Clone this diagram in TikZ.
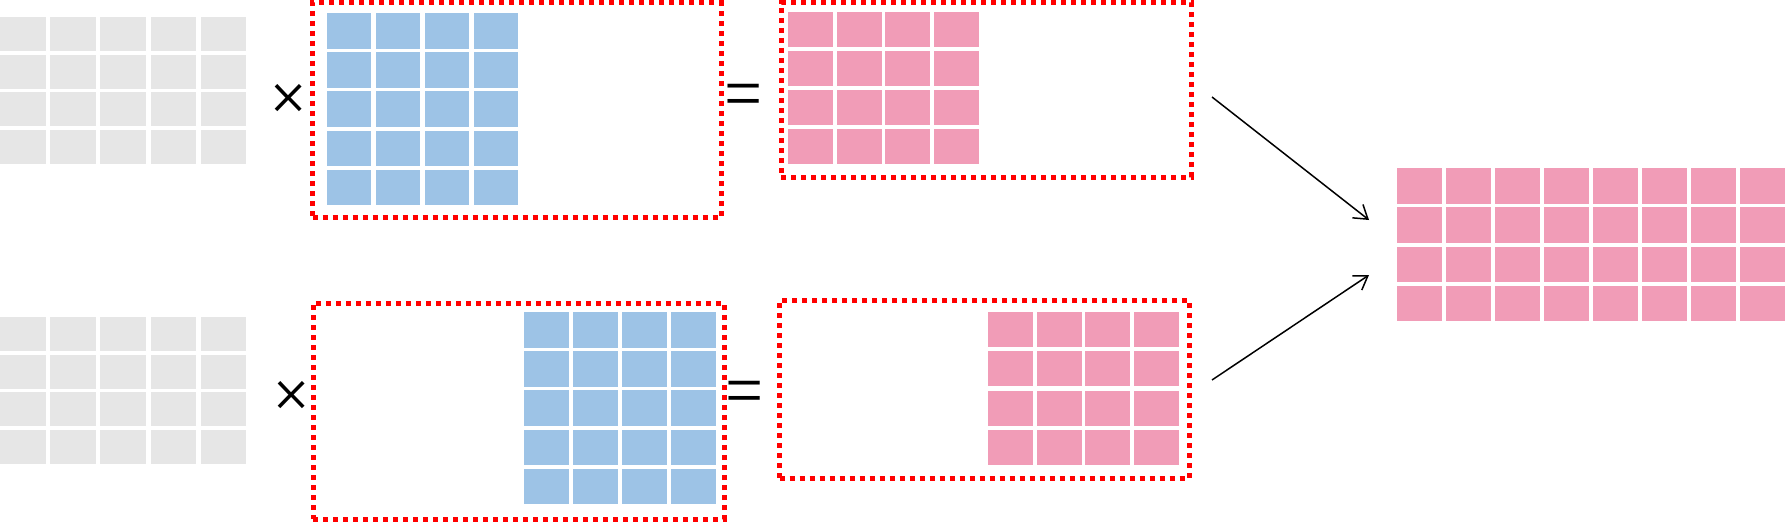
\documentclass[tikz,border=0pt]{standalone}
\usepackage{fontspec}
\setmainfont{Liberation Sans}
\newfontfamily\opfont{Fira Sans ExtraLight}
\usetikzlibrary{arrows.meta}
\definecolor{cgrey}{RGB}{230,230,230}
\definecolor{cblue}{RGB}{157,195,230}
\definecolor{cpink}{RGB}{241,156,183}
\definecolor{cred}{RGB}{255,0,0}
\newcommand\cellgrid[9]{%
  \foreach \ii in {1,...,#3}{%
    \foreach \jj in {1,...,#4}{%
      \fill[#9] ({#1+(\ii-1)*#5},{#2+(\jj-1)*#6}) rectangle ++(#7,#8);
    }%
  }%
}
\begin{document}
\begin{tikzpicture}[x=1pt,y=-1pt,
  redbox/.style={draw=cred, line width=5pt, dash pattern=on 5pt off 5pt, inner sep=0pt, outer sep=0pt, rectangle},
  opsign/.style={inner sep=0pt, outer sep=0pt, text=black},
  arrowline/.style={draw=black, line width=1.5pt, -{Straight Barb[length=13pt,width=17pt,line width=1.5pt]}}]
\useasboundingbox (0,0) rectangle (1785,522);
% grey left matrices
\cellgrid{0}{17}{5}{4}{50.2}{37.7}{45.5}{34}{cgrey}
\cellgrid{0}{317}{5}{4}{50.2}{37.7}{45.5}{34}{cgrey}
% blue matrices
\cellgrid{327}{13}{4}{5}{49}{39.2}{44}{35.5}{cblue}
\cellgrid{524}{312}{4}{5}{49}{39.2}{44.5}{35.5}{cblue}
% pink matrices
\cellgrid{788}{12}{4}{4}{48.7}{39}{45}{35}{cpink}
\cellgrid{988}{312}{4}{4}{48.7}{39.3}{45}{35}{cpink}
% big result
\cellgrid{1397}{168}{8}{4}{49}{39.3}{45}{35.5}{cpink}
% red dotted boxes
\node[redbox, minimum width=408.5pt, minimum height=214.5pt] (bluetop) at (516.75,109.75) {};
\node[redbox, minimum width=410pt, minimum height=174.5pt] (pinktop) at (986,89.75) {};
\node[redbox, minimum width=411pt, minimum height=216pt] (bluebot) at (518.5,411) {};
\node[redbox, minimum width=409.5pt, minimum height=178pt] (pinkbot) at (984.25,389) {};
% operators
\node[opsign, font=\opfont\fontsize{86}{86}\selectfont] (times1) at (289,104) {×};
\node[opsign, font=\opfont\fontsize{86}{86}\selectfont] (times2) at (291.5,401) {×};
\node[opsign, font=\opfont\fontsize{90}{90}\selectfont] (eq1) at (743.5,104) {=};
\node[opsign, font=\opfont\fontsize{90}{90}\selectfont] (eq2) at (744.5,401) {=};
% arrows
\coordinate (a1s) at (1212,97);
\coordinate (a1e) at (1369,220);
\coordinate (a2s) at (1212,380);
\coordinate (a2e) at (1369,275);
\draw[arrowline] (a1s) -- (a1e);
\draw[arrowline] (a2s) -- (a2e);
\end{tikzpicture}
\end{document}
